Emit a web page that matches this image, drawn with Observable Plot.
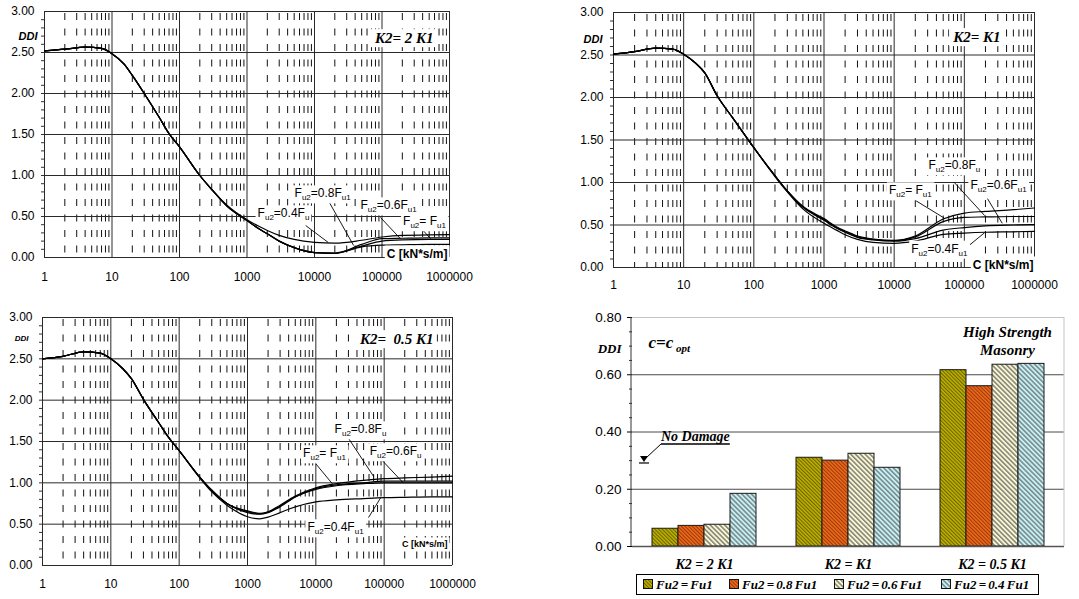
<!DOCTYPE html>
<html>
<head>
<meta charset="utf-8">
<script src="https://cdn.jsdelivr.net/npm/d3@7"></script>
<script src="https://cdn.jsdelivr.net/npm/@observablehq/plot@0.6"></script>
<style>
  body { margin: 0; background: #fff; }
  #fig { position: relative; width: 1079px; height: 599px; overflow: hidden; background: #fff; }
  .panel { position: absolute; }
  .panel svg { display: block; overflow: visible; }
  #legend {
    position: absolute; left: 636px; top: 574px; width: 401px; height: 19px;
    border: 1px solid #000;
    font: italic bold 13px "Liberation Serif", "Times New Roman", serif; word-spacing: -1px; color: #000;
  }
  #legend .item { position: absolute; top: 0; height: 19px; display: flex; align-items: center; gap: 2px; white-space: nowrap; }
  #legend svg { display: block; }
</style>
</head>
<body>
<svg width="0" height="0" style="position:absolute">
  <defs>
    <pattern id="hatch-fu1" width="2.6" height="2.6" patternUnits="userSpaceOnUse" patternTransform="rotate(-45)">
      <rect width="2.6" height="2.6" fill="#bdb000"></rect>
      <rect width="1" height="2.6" fill="#6a6200"></rect>
    </pattern>
    <pattern id="hatch-fu08" width="2.6" height="2.6" patternUnits="userSpaceOnUse" patternTransform="rotate(-45)">
      <rect width="2.6" height="2.6" fill="#ea6c1c"></rect>
      <rect width="1" height="2.6" fill="#a03406"></rect>
    </pattern>
    <pattern id="hatch-fu06" width="3.4" height="3.4" patternUnits="userSpaceOnUse" patternTransform="rotate(-45)">
      <rect width="3.4" height="3.4" fill="#fbf8cf"></rect>
      <rect width="1.6" height="3.4" fill="#878780"></rect>
    </pattern>
    <pattern id="hatch-fu04" width="3.4" height="3.4" patternUnits="userSpaceOnUse" patternTransform="rotate(-45)">
      <rect width="3.4" height="3.4" fill="#c4f2f4"></rect>
      <rect width="1.6" height="3.4" fill="#7d8b90"></rect>
    </pattern>
  </defs>
</svg>
<div id="fig"></div>
<script>
// ---- damping coefficient C [kN*s/m] (log axis) ----
const C = [1, 2, 4, 7, 10, 15, 20, 30, 50, 70, 100, 200, 300, 500,
           1000, 1500, 2000, 3000, 5000, 10000, 20000, 50000, 100000, 200000, 500000, 1000000];

// ---- DDI curves, K2 = 2 K1 ----
const k2x2_fu1  = [2.52, 2.54, 2.566, 2.55, 2.485, 2.36, 2.22, 2.00, 1.71, 1.51, 1.35, 1.00, 0.83, 0.63,
                   0.45, 0.35, 0.29, 0.20, 0.12, 0.06, 0.05, 0.16, 0.23, 0.235, 0.24, 0.24];
const k2x2_fu08 = [2.52, 2.54, 2.566, 2.55, 2.485, 2.36, 2.22, 2.00, 1.71, 1.51, 1.35, 1.00, 0.83, 0.63,
                   0.45, 0.35, 0.29, 0.20, 0.12, 0.06, 0.05, 0.13, 0.15, 0.155, 0.16, 0.16];
const k2x2_fu06 = [2.52, 2.54, 2.566, 2.55, 2.485, 2.36, 2.22, 2.00, 1.71, 1.51, 1.35, 1.00, 0.83, 0.63,
                   0.45, 0.35, 0.29, 0.20, 0.12, 0.06, 0.055, 0.14, 0.20, 0.215, 0.22, 0.22];
const k2x2_fu04 = [2.52, 2.54, 2.566, 2.55, 2.485, 2.36, 2.22, 2.00, 1.71, 1.51, 1.35, 1.00, 0.83, 0.64,
                   0.46, 0.38, 0.33, 0.27, 0.22, 0.185, 0.175, 0.21, 0.25, 0.27, 0.275, 0.28];

// ---- DDI curves, K2 = K1 ----
const k2x1_fu1  = [2.51, 2.54, 2.58, 2.57, 2.51, 2.40, 2.29, 2.02, 1.76, 1.59, 1.41, 1.08, 0.90, 0.72,
                   0.575, 0.48, 0.43, 0.37, 0.335, 0.32, 0.37, 0.57, 0.64, 0.66, 0.68, 0.70];
const k2x1_fu08 = [2.51, 2.54, 2.58, 2.57, 2.51, 2.40, 2.29, 2.02, 1.76, 1.59, 1.41, 1.08, 0.90, 0.71,
                   0.565, 0.47, 0.42, 0.36, 0.33, 0.315, 0.36, 0.54, 0.59, 0.595, 0.60, 0.60];
const k2x1_fu06 = [2.51, 2.54, 2.58, 2.57, 2.51, 2.40, 2.29, 2.02, 1.76, 1.59, 1.41, 1.08, 0.90, 0.71,
                   0.555, 0.465, 0.415, 0.355, 0.325, 0.31, 0.34, 0.44, 0.47, 0.49, 0.50, 0.505];
const k2x1_fu04 = [2.51, 2.54, 2.58, 2.57, 2.51, 2.40, 2.29, 2.02, 1.76, 1.59, 1.41, 1.07, 0.89, 0.69,
                   0.52, 0.44, 0.385, 0.33, 0.295, 0.285, 0.31, 0.39, 0.405, 0.415, 0.42, 0.425];

// ---- DDI curves, K2 = 0.5 K1 ----
const k2x05_fu1  = [2.50, 2.53, 2.585, 2.57, 2.50, 2.38, 2.26, 2.01, 1.73, 1.55, 1.39, 1.07, 0.91, 0.75,
                    0.65, 0.625, 0.645, 0.72, 0.83, 0.93, 0.975, 1.00, 1.02, 1.02, 1.02, 1.02];
const k2x05_fu08 = [2.50, 2.53, 2.585, 2.57, 2.50, 2.38, 2.26, 2.01, 1.73, 1.55, 1.39, 1.07, 0.91, 0.75,
                    0.66, 0.63, 0.65, 0.73, 0.84, 0.94, 0.99, 1.03, 1.05, 1.06, 1.07, 1.08];
const k2x05_fu06 = [2.50, 2.53, 2.585, 2.57, 2.50, 2.38, 2.26, 2.01, 1.73, 1.55, 1.39, 1.07, 0.91, 0.75,
                    0.64, 0.62, 0.64, 0.71, 0.83, 0.92, 0.965, 0.99, 1.00, 1.00, 1.00, 1.00];
const k2x05_fu04 = [2.50, 2.53, 2.585, 2.57, 2.50, 2.38, 2.26, 2.01, 1.73, 1.55, 1.39, 1.06, 0.89, 0.73,
                    0.59, 0.565, 0.585, 0.64, 0.71, 0.77, 0.795, 0.81, 0.82, 0.825, 0.83, 0.83];

// ---- bar chart: DDI at c = c_opt ----
const groups = ["K2 = 2 K1", "K2 = K1", "K2 = 0.5 K1"];
const seriesNames = ["Fu2 = Fu1", "Fu2 = 0.8 Fu1", "Fu2 = 0.6 Fu1", "Fu2 = 0.4 Fu1"];
const opt_fu1  = [0.062, 0.31, 0.616];
const opt_fu08 = [0.072, 0.30, 0.56];
const opt_fu06 = [0.076, 0.324, 0.635];
const opt_fu04 = [0.184, 0.275, 0.638];
const noDamage = 0.29;

// ---- axis ticks ----
const decades = [1, 10, 100, 1000, 10000, 100000, 1000000];
const minorC = decades.slice(0, -1).flatMap(d => [2, 3, 4, 5, 6, 7, 8, 9].map(k => k * d));
const majorDDI = [0, 0.5, 1, 1.5, 2, 2.5, 3];
const minorDDI = d3.range(1, 30).map(i => i / 10);
const barMajor = [0, 0.2, 0.4, 0.6, 0.8];
const barMinor = d3.range(1, 16).map(i => i / 20).filter(v => Math.round(v * 100) % 20 !== 0);

const SANS = "'Liberation Sans', Arial, Helvetica, sans-serif";
const SERIF = "'Liberation Serif', 'Times New Roman', serif";
const fig = document.getElementById("fig");

// text elements of a plot whose content is one of `strings`
function textsOf(svg, strings) {
  return d3.select(svg).selectAll("text").filter(function () {
    return strings.includes(this.textContent);
  });
}

// turn the characters captured by `re` into lowered, smaller tspans
function subscripts(sel, re, size, shift) {
  sel.each(function () {
    const parts = this.textContent.split(re);
    const t = d3.select(this);
    t.text(null);
    let low = false;
    parts.forEach((p, i) => {
      if (!p) return;
      const ts = t.append("tspan").text(p);
      if (i % 2 === 1) {
        ts.attr("font-size", size);
        if (!low) ts.attr("dy", shift);
        low = true;
      } else if (low) {
        ts.attr("dy", -shift);
        low = false;
      }
    });
  });
}

// white box behind annotation text so grid lines do not run through it
function boxes(sel, px, py) {
  sel.each(function () {
    const b = this.getBBox();
    const r = document.createElementNS("http://www.w3.org/2000/svg", "rect");
    r.setAttribute("x", b.x - px);
    r.setAttribute("y", b.y - py);
    r.setAttribute("width", b.width + 2 * px);
    r.setAttribute("height", b.height + 2 * py);
    r.setAttribute("fill", "#fff");
    r.setAttribute("stroke", "none");
    const tr = this.getAttribute("transform");
    if (tr) r.setAttribute("transform", tr);
    this.parentNode.insertBefore(r, this);
  });
}

function curvePanel(cfg) {
  const rows = cfg.series.flatMap(s => C.map((c, i) => ({c, ddi: s.values[i], name: s.name})));
  const plot = Plot.plot({
    width: cfg.width, height: cfg.height,
    marginLeft: cfg.ml, marginRight: cfg.mr, marginTop: cfg.mt, marginBottom: cfg.mb,
    style: {fontFamily: SANS, fontSize: "12px", color: "#000", background: "transparent"},
    x: {type: "log", domain: [1, 1e6]},
    y: {domain: [0, 3]},
    marks: [
      Plot.ruleX(minorC, {stroke: "#111", strokeWidth: 1, strokeDasharray: "7,8.5", strokeDashoffset: -2}),
      Plot.ruleX(decades, {stroke: "#2a2a2a", strokeWidth: 1}),
      Plot.ruleY(majorDDI, {stroke: "#2a2a2a", strokeWidth: 1}),
      Plot.axisY(minorDDI, {tickSize: 3, tickFormat: () => "", label: null, stroke: "#333"}),
      Plot.axisY(majorDDI, {tickSize: 0, tickPadding: 10, tickFormat: d3.format(".2f"), label: null, fontSize: 12}),
      Plot.axisX(decades, {tickSize: 0, tickPadding: cfg.xpad, tickFormat: d => String(d), label: null, fontSize: 12}),
      Plot.line(rows, {x: "c", y: "ddi", z: "name", curve: "monotone-x", stroke: "#000", strokeWidth: 1.2}),
      Plot.link(cfg.notes, {x1: "x1", y1: "y1", x2: "x2", y2: "y2", stroke: "#000", strokeWidth: 0.9}),
      Plot.text(cfg.notes, {x: "tx", y: "ty", text: "label", fontSize: 12}),
      Plot.text([cfg.title], {frameAnchor: "top-right", textAnchor: "end", dx: cfg.titleDx, dy: cfg.titleDy,
        fontFamily: SERIF, fontWeight: "bold", fontStyle: "italic", fontSize: 15}),
      Plot.text(["DDI"], {frameAnchor: "top-left", textAnchor: "end", dx: cfg.ddiDx, dy: cfg.ddiDy,
        fontWeight: "bold", fontStyle: "italic", fontSize: cfg.ddiSize}),
      Plot.text(["C [kN*s/m]"], {frameAnchor: "bottom-right", textAnchor: "end", dx: cfg.cDx, dy: cfg.cDy,
        fontWeight: "bold", fontSize: cfg.cSize})
    ]
  });
  const div = document.createElement("div");
  div.className = "panel";
  div.style.left = cfg.left + "px";
  div.style.top = cfg.top + "px";
  div.appendChild(plot);
  fig.appendChild(div);
  const labels = textsOf(plot, cfg.notes.map(n => n.label));
  subscripts(labels, /(?<=F)(u\d?)/, 8, 3);
  boxes(labels, 2, 1);
  boxes(textsOf(plot, [cfg.title]), 3, 1);
  boxes(textsOf(plot, ["C [kN*s/m]"]), 2, 1);
  return plot;
}

const seriesOf = (a, b, c, d) => [
  {name: "Fu2=Fu1", values: a}, {name: "Fu2=0.8Fu1", values: b},
  {name: "Fu2=0.6Fu1", values: c}, {name: "Fu2=0.4Fu1", values: d}
];

// K2 = 2 K1
curvePanel({
  left: 0, top: 0, width: 540, height: 290, ml: 44, mr: 91, mt: 11, mb: 33, xpad: 15,
  series: seriesOf(k2x2_fu1, k2x2_fu08, k2x2_fu06, k2x2_fu04),
  title: "K2= 2 K1", titleDx: -16, titleDy: 21,
  ddiDx: -7, ddiDy: 21, ddiSize: 11, cDx: -2, cDy: 0, cSize: 12,
  notes: [
    {label: "Fu2=0.8Fu1", tx: 13200, ty: 0.78, x1: 16000, y1: 0.695, x2: 38000, y2: 0.146},
    {label: "Fu2=0.4Fu", tx: 3470, ty: 0.537, x1: 7400, y1: 0.39, x2: 16000, y2: 0.183},
    {label: "Fu2=0.6Fu1", tx: 125000, ty: 0.634, x1: 95000, y1: 0.488, x2: 187000, y2: 0.23},
    {label: "Fu2= Fu1", tx: 426000, ty: 0.44, x1: 371000, y1: 0.366, x2: 523000, y2: 0.23}
  ]
});

// K2 = K1
curvePanel({
  left: 540, top: 0, width: 539, height: 290, ml: 73, mr: 45, mt: 12, mb: 23, xpad: 13,
  series: seriesOf(k2x1_fu1, k2x1_fu08, k2x1_fu06, k2x1_fu04),
  title: "K2= K1", titleDx: -34, titleDy: 19,
  ddiDx: -11, ddiDy: 23, ddiSize: 11, cDx: -1, cDy: 1, cSize: 12,
  notes: [
    {label: "Fu2=0.8Fu", tx: 72000, ty: 1.20, x1: 72000, y1: 1.0, x2: 195000, y2: 0.61},
    {label: "Fu2=0.6Fu1", tx: 307000, ty: 0.965, x1: 214000, y1: 0.81, x2: 347000, y2: 0.52},
    {label: "Fu2= Fu1", tx: 17000, ty: 0.906, x1: 20000, y1: 0.79, x2: 52000, y2: 0.58},
    {label: "Fu2=0.4Fu1", tx: 44000, ty: 0.22, x1: 117000, y1: 0.26, x2: 195000, y2: 0.41}
  ]
});

// K2 = 0.5 K1
curvePanel({
  left: 0, top: 290, width: 540, height: 309, ml: 42, mr: 88, mt: 27, mb: 34, xpad: 14,
  series: seriesOf(k2x05_fu1, k2x05_fu08, k2x05_fu06, k2x05_fu04),
  title: "K2=  0.5 K1", titleDx: -19, titleDy: 16,
  ddiDx: -14, ddiDy: 18, ddiSize: 8, cDx: -5, cDy: -19, cSize: 9,
  notes: [
    {label: "Fu2=0.8Fu", tx: 45000, ty: 1.645, x1: 30000, y1: 1.54, x2: 71000, y2: 1.07},
    {label: "Fu2=0.6Fu", tx: 147000, ty: 1.38, x1: 89000, y1: 1.29, x2: 190000, y2: 1.0},
    {label: "Fu2= Fu1", tx: 13400, ty: 1.355, x1: 10000, y1: 1.23, x2: 17400, y2: 0.99},
    {label: "Fu2=0.4Fu1", tx: 19400, ty: 0.46, x1: 59000, y1: 0.58, x2: 89000, y2: 0.82}
  ]
});

// ---- bar chart ----
const patterns = {
  "Fu2 = Fu1": "url(#hatch-fu1)", "Fu2 = 0.8 Fu1": "url(#hatch-fu08)",
  "Fu2 = 0.6 Fu1": "url(#hatch-fu06)", "Fu2 = 0.4 Fu1": "url(#hatch-fu04)"
};
const optValues = [opt_fu1, opt_fu08, opt_fu06, opt_fu04];
const bars = seriesNames.flatMap((s, j) => groups.map((g, i) => ({group: g, series: s, ddi: optValues[j][i]})));

const BM = {ml: 71, mr: 15, mt: 17, mb: 28, w: 519, h: 274};
const barPlot = Plot.plot({
  width: BM.w, height: BM.h,
  marginLeft: BM.ml, marginRight: BM.mr, marginTop: BM.mt, marginBottom: BM.mb,
  style: {fontFamily: SANS, fontSize: "13.5px", color: "#000", background: "transparent"},
  fx: {domain: groups, padding: 0},
  x: {domain: seriesNames, paddingInner: 0, paddingOuter: 0.7, axis: null},
  y: {domain: [0, 0.8]},
  color: {type: "identity"},
  marks: [
    Plot.ruleY([0.8], {stroke: "#c4c4c4", strokeWidth: 1}),
    Plot.ruleY([0.2, 0.4, 0.6], {stroke: "#4a4a4a", strokeWidth: 1}),
    Plot.barY(bars, {fx: "group", x: "series", y: "ddi", fill: d => patterns[d.series], stroke: "#1a1a1a", strokeWidth: 1}),
    Plot.ruleY([0], {stroke: "#555", strokeWidth: 1.6}),
    Plot.axisY(barMinor, {tickSize: 3, tickFormat: () => "", label: null, stroke: "#333"}),
    Plot.axisY(barMajor, {tickSize: 5, tickPadding: 6, tickFormat: d3.format(".2f"), label: null, fontSize: 13.5}),
    Plot.axisFx({anchor: "bottom", tickSize: 0, tickPadding: 13, label: null,
      fontFamily: SERIF, fontWeight: "bold", fontStyle: "italic", fontSize: 14}),
    Plot.text([{group: groups[0], t: "c=c opt"}], {fx: "group", frameAnchor: "top-left", text: "t", textAnchor: "start",
      dx: 16, dy: 18, fontFamily: SERIF, fontWeight: "bold", fontStyle: "italic", fontSize: 17}),
    Plot.text([{group: groups[0], t: "DDI"}], {fx: "group", frameAnchor: "top-left", text: "t", textAnchor: "end",
      dx: -11, dy: 26, fontFamily: SERIF, fontWeight: "bold", fontStyle: "italic", fontSize: 13}),
    Plot.text([{group: groups[2], t: "High Strength\nMasonry"}], {fx: "group", frameAnchor: "top-right", text: "t",
      textAnchor: "middle", lineAnchor: "top", lineHeight: 1.2, dx: -57, dy: 7,
      fontFamily: SERIF, fontWeight: "bold", fontStyle: "italic", fontSize: 15})
  ]
});
const barDiv = document.createElement("div");
barDiv.className = "panel";
barDiv.style.left = "560px";
barDiv.style.top = "300px";
barDiv.appendChild(barPlot);
fig.appendChild(barDiv);
subscripts(textsOf(barPlot, ["c=c opt"]), /( opt)$/, 11, 4);

// frame edges and the "No Damage" marker
{
  const svg = d3.select(barPlot);
  const y = barPlot.scale("y");
  const top = y.apply(0.8), bottom = y.apply(0);
  const right = BM.w - BM.mr;
  svg.append("line").attr("x1", right).attr("x2", right).attr("y1", top).attr("y2", bottom)
    .attr("stroke", "#c4c4c4");
  svg.append("line").attr("x1", BM.ml).attr("x2", BM.ml).attr("y1", top).attr("y2", bottom)
    .attr("stroke", "#333");
  const yy = y.apply(noDamage);
  const x0 = BM.ml + 13;
  const g = svg.append("g");
  g.append("line").attr("x1", x0 - 5).attr("x2", x0 + 5).attr("y1", yy).attr("y2", yy).attr("stroke", "#000").attr("stroke-width", 1.2);
  g.append("path").attr("d", `M${x0 - 4},${yy - 7}L${x0 + 4},${yy - 7}L${x0},${yy - 1}Z`).attr("fill", "#000");
  g.append("line").attr("x1", x0 + 2).attr("y1", yy - 5).attr("x2", x0 + 17).attr("y2", yy - 19).attr("stroke", "#000");
  const t = g.append("text").attr("x", x0 + 17).attr("y", yy - 22).attr("text-anchor", "start")
    .attr("font-family", SERIF).attr("font-weight", "bold").attr("font-style", "italic").attr("font-size", 14)
    .attr("fill", "#000").text("No Damage");
  const w = t.node().getComputedTextLength();
  g.append("line").attr("x1", x0 + 17).attr("x2", x0 + 17 + w).attr("y1", yy - 19).attr("y2", yy - 19)
    .attr("stroke", "#000").attr("stroke-width", 1.4);
}

// ---- legend (one swatch per series, laid out in a bordered row) ----
const legend = document.createElement("div");
legend.id = "legend";
const legendLeft = [6, 92, 197, 304];
seriesNames.forEach((s, i) => {
  const item = document.createElement("div");
  item.className = "item";
  item.style.left = legendLeft[i] + "px";
  item.innerHTML = `<svg width="11" height="11"><rect x="0.5" y="0.5" width="9" height="9" fill="${patterns[s]}" stroke="#111"></rect></svg><span>${s}</span>`;
  legend.appendChild(item);
});
fig.appendChild(legend);
</script>
</body>
</html>
